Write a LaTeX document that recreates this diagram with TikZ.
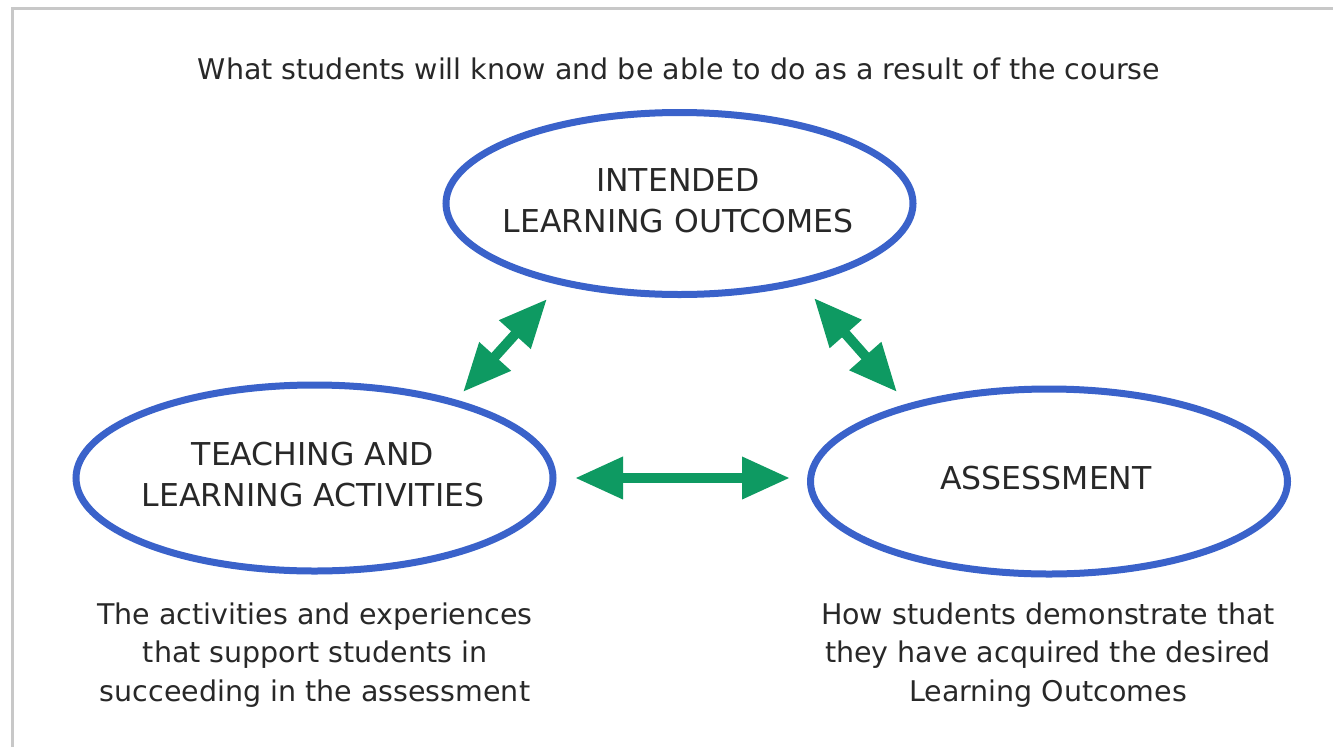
\documentclass[tikz,border=0pt]{standalone}
\usepackage{fontspec}
\setmainfont{DejaVu Sans}
\usetikzlibrary{arrows.meta,shapes.geometric}
\definecolor{ringblue}{RGB}{58,98,202}
\definecolor{arrgreen}{RGB}{14,154,98}
\definecolor{txt}{RGB}{40,40,40}
\definecolor{frame}{RGB}{200,200,200}
\tikzset{
  ring/.style={ellipse,draw=ringblue,line width=7pt,inner sep=0pt,text=txt,align=center},
  ringtext/.style={text=txt,align=center,inner sep=0pt,font=\fontsize{31.5}{41}\selectfont},
  caption/.style={text=txt,align=center,inner sep=0pt,font=\fontsize{28.5}{38.5}\selectfont},
  twoway/.style={draw=arrgreen,line width=10pt,
    {Triangle[length=48pt,width=40pt]}-{Triangle[length=48pt,width=40pt]}},
}
\begin{document}
\begin{tikzpicture}[x=1pt,y=-1pt]
\useasboundingbox (0,0) rectangle (1333,747);
\fill[white] (0,0) rectangle (1333,747);
\draw[frame,line width=3pt] (12,747) -- (12,8) -- (1333,8);

\node[caption,anchor=base] (goal) at (679,79) {What students will know and be able to do as a result of the course};

\node[ring,minimum width=467pt,minimum height=182pt] (ilo) at (679.5,203.5) {};
\node[ring,minimum width=477pt,minimum height=186pt] (tla) at (314.5,478) {};
\node[ring,minimum width=477pt,minimum height=185pt] (asm) at (1049,481.5) {};

\node[ringtext,anchor=base] (ilot) at (678,232) {INTENDED\\LEARNING OUTCOMES};
\node[ringtext,anchor=base] (tlat) at (313,506) {TEACHING AND\\LEARNING ACTIVITIES};
\node[ringtext,anchor=base] (asmt) at (1046,489.5) {ASSESSMENT};

\node[caption,anchor=base] (tlac) at (315,701) {The activities and experiences\\that support students in\\succeeding in the assessment};
\node[caption,anchor=base] (asmc) at (1048,701) {How students demonstrate that\\they have acquired the desired\\Learning Outcomes};

\coordinate (a1) at (463,392);
\coordinate (a2) at (547,299);
\coordinate (b1) at (814,298);
\coordinate (b2) at (897,392);
\coordinate (c1) at (575,478);
\coordinate (c2) at (790,478);
\draw[twoway] (a1) -- (a2);
\draw[twoway] (b1) -- (b2);
\draw[twoway] (c1) -- (c2);
\end{tikzpicture}
\end{document}
